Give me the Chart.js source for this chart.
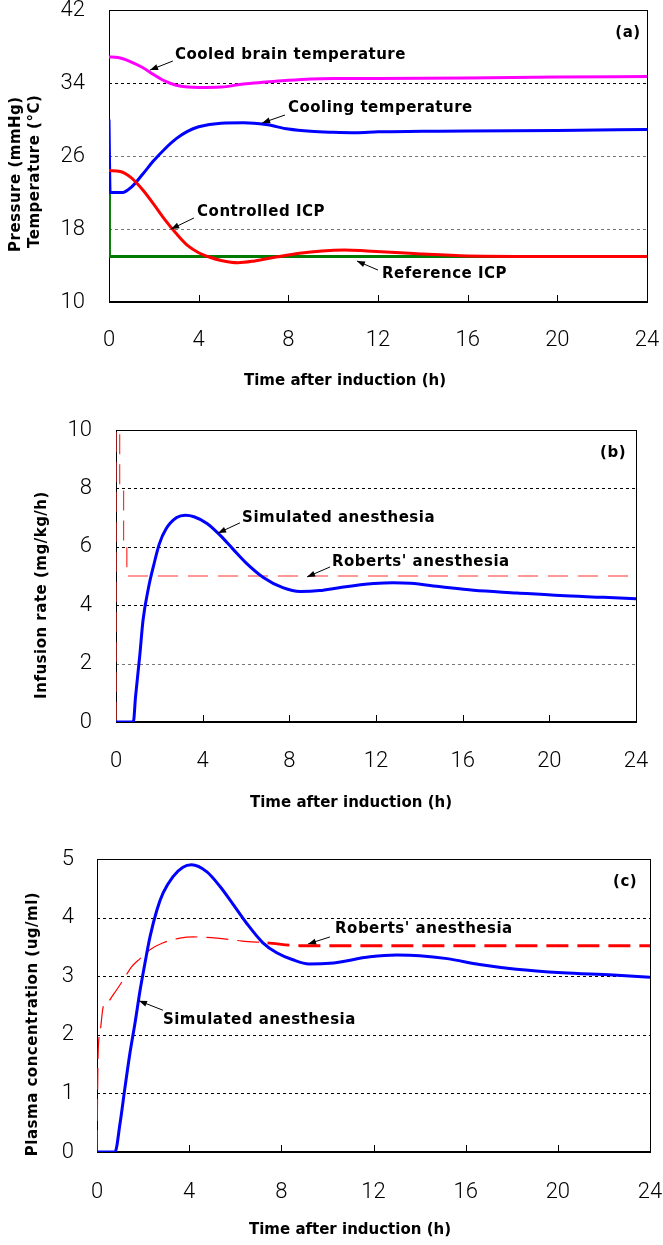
<!DOCTYPE html>
<html>
<head>
<meta charset="utf-8">
<script src="https://cdn.jsdelivr.net/npm/chart.js@4.4.1/dist/chart.umd.min.js"></script>
<style>
  html, body { margin: 0; padding: 0; background: #fff; }
  body { width: 663px; height: 1245px; position: relative; overflow: hidden; }
  canvas { position: absolute; left: 0; }
</style>
</head>
<body>
<canvas id="chartA" width="663" height="400" style="top:0px"></canvas>
<canvas id="chartB" width="663" height="425" style="top:405px"></canvas>
<canvas id="chartC" width="663" height="415" style="top:830px"></canvas>
<script>
// ---- tick labels ----
const hourTicks = [0, 4, 8, 12, 16, 20, 24];
const pressureTicks = [10, 18, 26, 34, 42];
const rateTicks = [0, 2, 4, 6, 8, 10];
const concTicks = [0, 1, 2, 3, 4, 5];

// ---- (a) temperatures and ICP ----
const brainTime = [0, 0.4, 1, 1.5, 2, 2.5, 3, 3.5, 4, 5, 6, 7, 8, 9, 10, 12, 16, 20, 24];
const brainTemp = [36.85, 36.8, 36.3, 35.7, 34.9, 34.2, 33.75, 33.55, 33.5, 33.55, 33.9, 34.1, 34.3, 34.45, 34.5, 34.5, 34.55, 34.65, 34.7];

const coolTime = [0, 0.05, 0.6, 1, 1.5, 2, 2.5, 3, 3.5, 4, 5, 6, 7, 8, 9, 10, 11, 12, 14, 16, 20, 24];
const coolTemp = [30, 22.0, 22.0, 22.6, 24.0, 25.5, 26.8, 27.9, 28.7, 29.2, 29.6, 29.65, 29.45, 28.95, 28.7, 28.6, 28.55, 28.65, 28.7, 28.75, 28.8, 28.9];

const icpTime = [0, 0.5, 1, 1.5, 2, 2.5, 3, 3.5, 4, 4.5, 5, 5.75, 6.5, 7.5, 8.5, 9.5, 10.5, 11.5, 13, 14, 16, 20, 24];
const icpValue = [24.4, 24.3, 23.6, 22.3, 20.7, 19.0, 17.5, 16.2, 15.4, 14.9, 14.55, 14.3, 14.5, 14.95, 15.35, 15.6, 15.7, 15.6, 15.4, 15.25, 15.05, 15.0, 15.0];

const refTime = [0, 0.02, 24];
const refIcp = [24.4, 15, 15];

// ---- (b) infusion rate ----
const simRateTime = [0, 0.8, 0.9, 1.1, 1.25, 1.5, 1.75, 2.0, 2.3, 2.8, 3.2, 3.6, 4.2, 4.8, 5.4, 6.0, 6.8, 7.7, 8.5, 9.4, 10.3, 11.9, 12.8, 13.6, 15, 16.5, 18.5, 20.5, 22.5, 24];
const simRate = [0, 0, 0.85, 2.3, 3.5, 4.6, 5.4, 6.1, 6.6, 7.0, 7.08, 7.03, 6.8, 6.4, 5.92, 5.45, 4.95, 4.6, 4.47, 4.5, 4.6, 4.74, 4.77, 4.75, 4.63, 4.51, 4.42, 4.33, 4.27, 4.22];

const robRateTime = [0, 0, 0.17, 0.17, 0.35, 0.35, 0.5, 0.5, 24];
const robRate = [0, 10, 10, 8, 8, 6, 6, 5, 5];

// ---- (c) plasma concentration ----
const simConcTime = [0, 0.78, 1.0, 1.2, 1.43, 1.65, 1.87, 2.08, 2.3, 2.6, 2.87, 3.3, 3.73, 4.1, 4.77, 5.34, 5.9, 6.5, 7.2, 7.8, 8.5, 9.2, 10.1, 11.85, 13, 14, 15.2, 16.6, 18.2, 20.2, 22.4, 24];
const simConc = [0, 0, 0.49, 1.06, 1.69, 2.2, 2.76, 3.22, 3.67, 4.13, 4.42, 4.7, 4.86, 4.9, 4.78, 4.53, 4.23, 3.9, 3.57, 3.4, 3.28, 3.21, 3.22, 3.33, 3.36, 3.35, 3.3, 3.2, 3.12, 3.06, 3.02, 2.98];

const robConcTime = [0, 0.05, 0.13, 0.27, 0.43, 0.7, 1.13, 1.5, 1.87, 2.3, 2.87, 3.6, 4.2, 5.2, 6.3, 7.4, 8.8, 12, 16, 20, 24];
const robConc = [0, 1.7, 2.03, 2.48, 2.54, 2.68, 2.93, 3.16, 3.3, 3.45, 3.57, 3.65, 3.67, 3.65, 3.6, 3.57, 3.52, 3.52, 3.52, 3.52, 3.52];

// ---- helpers ----
const pts = (xs, ys) => xs.map((x, i) => ({ x: x, y: ys[i] }));
const TICK_FONT = { family: 'Roboto, "Liberation Sans", sans-serif', size: 22, weight: '300' };
const BOLD = 'bold 15px "DejaVu Sans", sans-serif';

function drawArrow(ctx, x1, y1, x2, y2) {
    const ang = Math.atan2(y2 - y1, x2 - x1);
    ctx.beginPath();
    ctx.moveTo(x1, y1);
    ctx.lineTo(x2, y2);
    ctx.stroke();
    ctx.beginPath();
    ctx.moveTo(x2, y2);
    ctx.lineTo(x2 - 8 * Math.cos(ang) + 3 * Math.sin(ang), y2 - 8 * Math.sin(ang) - 3 * Math.cos(ang));
    ctx.lineTo(x2 - 8 * Math.cos(ang) - 3 * Math.sin(ang), y2 - 8 * Math.sin(ang) + 3 * Math.cos(ang));
    ctx.closePath();
    ctx.fill();
}

// frame and dashed grid under the curves; ticks, titles and arrows on top
const panelPlugin = {
    id: 'panel',
    beforeDatasetsDraw(chart, args, opts) {
        const { ctx, chartArea: a, scales: { y } } = chart;
        ctx.save();
        ctx.lineWidth = 1;
        ctx.setLineDash([3, 3]);
        y.ticks.forEach(t => {
            if (t.value <= y.min || t.value >= y.max) return;
            const py = Math.round(y.getPixelForValue(t.value)) + 0.5;
            ctx.strokeStyle = opts.faint.includes(t.value) ? '#777' : '#000';
            ctx.beginPath();
            ctx.moveTo(a.left, py);
            ctx.lineTo(a.right, py);
            ctx.stroke();
        });
        ctx.setLineDash([]);
        ctx.strokeStyle = '#000';
        ctx.strokeRect(Math.round(a.left) + 0.5, Math.round(a.top) + 0.5, Math.round(a.right - a.left), Math.round(a.bottom - a.top));
        ctx.lineWidth = 2;
        ctx.beginPath();
        ctx.moveTo(a.left, Math.round(a.bottom));
        ctx.lineTo(a.right, Math.round(a.bottom));
        ctx.stroke();
        ctx.restore();
    },
    afterDraw(chart, args, opts) {
        const { ctx, chartArea: a, scales: { x, y } } = chart;
        ctx.save();
        ctx.strokeStyle = '#000';
        ctx.fillStyle = '#000';
        ctx.lineWidth = 1;
        // small ticks pointing into the plot
        x.ticks.forEach(t => {
            if (t.value <= x.min || t.value >= x.max) return;
            const px = Math.round(x.getPixelForValue(t.value)) + 0.5;
            ctx.beginPath();
            ctx.moveTo(px, a.bottom);
            ctx.lineTo(px, a.bottom - 7);
            ctx.stroke();
        });
        // axis titles
        ctx.font = BOLD;
        ctx.textBaseline = 'middle';
        ctx.textAlign = 'center';
        ctx.fillText(opts.xTitle.text, opts.xTitle.x, opts.xTitle.y - opts.top);
        ctx.letterSpacing = '0.5px';
        opts.yTitles.forEach(tt => {
            ctx.save();
            ctx.translate(tt.x, tt.y - opts.top);
            ctx.rotate(-Math.PI / 2);
            ctx.textAlign = tt.align;
            ctx.fillText(tt.text, 0, 0);
            ctx.restore();
        });
        // annotations
        opts.notes.forEach(n => {
            ctx.textAlign = n.align || 'left';
            ctx.fillText(n.text, x.getPixelForValue(n.at[0]), y.getPixelForValue(n.at[1]));
            if (n.from) {
                drawArrow(ctx, x.getPixelForValue(n.from[0]), y.getPixelForValue(n.from[1]),
                    x.getPixelForValue(n.to[0]), y.getPixelForValue(n.to[1]));
            }
        });
        ctx.restore();
    }
};

function makeChart(id, lay, yTicks, datasets, panel) {
    return new Chart(document.getElementById(id), {
        type: 'line',
        data: { datasets: datasets },
        options: {
            responsive: false,
            animation: false,
            devicePixelRatio: 1,
            layout: { padding: { top: lay.area.top - lay.top, right: 663 - lay.area.right, left: 0, bottom: 0 } },
            elements: { point: { radius: 0 }, line: { borderCapStyle: 'butt' } },
            plugins: { legend: { display: false }, tooltip: { enabled: false }, panel: Object.assign({ top: lay.top }, panel) },
            scales: {
                x: {
                    type: 'linear', min: 0, max: 24,
                    afterBuildTicks: s => { s.ticks = hourTicks.map(v => ({ value: v })); },
                    afterFit: s => {
                        s.height = lay.top + lay.height - lay.area.bottom;
                        s.paddingLeft = 0;
                        s.paddingRight = 0;
                    },
                    grid: { display: false }, border: { display: false },
                    ticks: { font: TICK_FONT, color: '#000', padding: lay.xPad, maxRotation: 0, autoSkip: false }
                },
                y: {
                    type: 'linear', min: yTicks[0], max: yTicks[yTicks.length - 1],
                    afterBuildTicks: s => { s.ticks = yTicks.map(v => ({ value: v })); },
                    afterFit: s => {
                        s.width = lay.area.left;
                        s.paddingTop = 0;
                        s.paddingBottom = 0;
                    },
                    grid: { display: false }, border: { display: false },
                    ticks: { font: TICK_FONT, color: '#000', padding: lay.yPad }
                }
            }
        },
        plugins: [panelPlugin]
    });
}

const smooth = { fill: false, cubicInterpolationMode: 'monotone' };
const TIME_TITLE = 'Time after induction (h)';

// (a)
makeChart('chartA',
    { top: 0, height: 400, area: { left: 109, right: 647, top: 10, bottom: 302 }, xPad: 17, yPad: 16 },
    pressureTicks,
    [
        Object.assign({ data: pts(icpTime, icpValue), borderColor: '#ff0000', borderWidth: 3 }, smooth),
        Object.assign({ data: pts(coolTime, coolTemp), borderColor: '#0000ff', borderWidth: 3 }, smooth),
        Object.assign({ data: pts(brainTime, brainTemp), borderColor: '#ff00ff', borderWidth: 3 }, smooth),
        { data: pts(refTime, refIcp), borderColor: '#007a00', borderWidth: 3, tension: 0, fill: false }
    ],
    {
        faint: [18, 26],
        xTitle: { text: TIME_TITLE, x: 345, y: 381 },
        yTitles: [
            { text: 'Pressure (mmHg)', x: 16, y: 252, align: 'left' },
            { text: 'Temperature (\u00b0C)', x: 35, y: 248, align: 'left' }
        ],
        notes: [
            { text: '(a)', at: [23.15, 39.5], align: 'center' },
            { text: 'Cooled brain temperature', at: [2.94, 37.07], from: [2.85, 36.41], to: [1.83, 35.42] },
            { text: 'Cooling temperature', at: [7.98, 31.2], from: [7.85, 30.49], to: [6.83, 29.62] },
            { text: 'Controlled ICP', at: [3.93, 19.86], from: [3.79, 19.21], to: [2.77, 18.0] },
            { text: 'Reference ICP', at: [12.18, 13.07], from: [12.0, 13.5], to: [11.06, 14.49] }
        ]
    });

// (b)
makeChart('chartB',
    { top: 405, height: 425, area: { left: 116, right: 636, top: 430, bottom: 722 }, xPad: 18, yPad: 16 },
    rateTicks,
    [
        Object.assign({ data: pts(simRateTime, simRate), borderColor: '#0000ff', borderWidth: 3 }, smooth),
        { data: pts(robRateTime, robRate), borderColor: '#ff3030', borderWidth: 1.2, borderDash: [20, 10], tension: 0, fill: false }
    ],
    {
        faint: [2],
        xTitle: { text: TIME_TITLE, x: 351, y: 803 },
        yTitles: [{ text: 'Infusion rate (mg/kg/h)', x: 42, y: 595, align: 'center' }],
        notes: [
            { text: '(b)', at: [22.94, 9.21], align: 'center' },
            { text: 'Simulated anesthesia', at: [5.82, 6.99], from: [5.72, 6.82], to: [4.71, 6.47] },
            { text: "Roberts' anesthesia", at: [9.97, 5.48], from: [9.88, 5.31], to: [8.82, 4.97] }
        ]
    });

// (c)
makeChart('chartC',
    { top: 830, height: 415, area: { left: 97, right: 650, top: 859, bottom: 1152 }, xPad: 19, yPad: 15 },
    concTicks,
    [
        Object.assign({ data: pts(simConcTime, simConc), borderColor: '#0000ff', borderWidth: 3 }, smooth),
        Object.assign({
            data: pts(robConcTime, robConc), borderColor: '#ff0000', borderWidth: 1.2, borderDash: [22, 9],
            segment: { borderWidth: c => (c.p0.parsed.x >= 7.4 ? 2.8 : 1.2) }
        }, smooth)
    ],
    {
        faint: [],
        xTitle: { text: TIME_TITLE, x: 350, y: 1230 },
        yTitles: [{ text: 'Plasma concentration (ug/ml)', x: 33, y: 1024, align: 'center' }],
        notes: [
            { text: '(c)', at: [22.92, 4.61], align: 'center' },
            { text: "Roberts' anesthesia", at: [10.33, 3.81], from: [10.11, 3.67], to: [9.16, 3.55] },
            { text: 'Simulated anesthesia', at: [2.86, 2.25], from: [2.86, 2.42], to: [1.82, 2.58] }
        ]
    });
</script>
</body>
</html>
